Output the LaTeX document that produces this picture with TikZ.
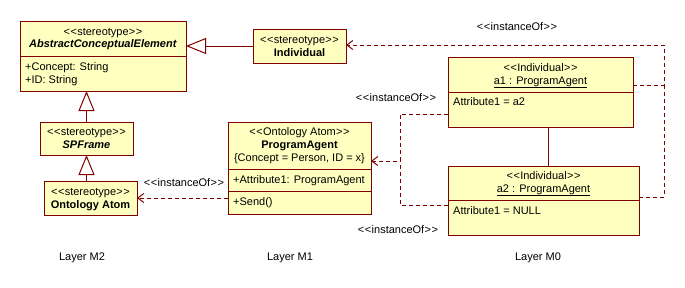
\documentclass[tikz,border=0pt]{standalone}
\usepackage{fontspec}
\setmainfont{Liberation Sans}
\usetikzlibrary{arrows.meta,calc}

\definecolor{umlred}{RGB}{128,0,0}
\definecolor{umlfill}{RGB}{255,255,192}
% the kerns keep << and >> from turning into guillemets
\newcommand{\stereo}[1]{\textless\kern0.6pt\textless\kern0.3pt #1\kern0.3pt\textgreater\kern0.6pt\textgreater}

\begin{document}
\begin{tikzpicture}[
  x=1pt, y=-1pt,
  font=\fontsize{11}{13}\selectfont,
  cls/.style={rectangle, draw=umlred, fill=umlfill, line width=1pt, inner sep=0pt, outer sep=0pt, anchor=north west},
  txt/.style={inner sep=0pt, text height=8pt, text depth=2pt},
  attr/.style={txt, anchor=west},
  gen/.style={draw=umlred, line width=1pt, -{Triangle[open, length=20pt, width=16pt, fill=white]}},
  dep/.style={draw=umlred, line width=1pt, dash pattern=on 4pt off 3pt, -{Straight Barb[length=6pt, width=9pt]}},
  assoc/.style={draw=umlred, line width=1pt},
]
  \useasboundingbox (0,0) rectangle (685,287);

  % Layer M2
  \node[cls, minimum width=166pt, minimum height=70pt] (ace) at (20,21) {};
  \draw[assoc] ($(ace.north west)+(0,35)$) -- ($(ace.north east)+(0,35)$);
  \node[txt] (ace-st) at ($(ace.north)+(0,11)$) {\stereo{stereotype}};
  \node[txt] (ace-name) at ($(ace.north)+(0,23)$) {\textbf{\textit{AbstractConceptualElement}}};
  \node[attr] (ace-a1) at ($(ace.north west)+(5,46)$) {+Concept: String};
  \node[attr] (ace-a2) at ($(ace.north west)+(5,59)$) {+ID: String};

  \node[cls, minimum width=93pt, minimum height=33pt] (spf) at (40,122) {};
  \node[txt] (spf-st) at ($(spf.north)+(0,10)$) {\stereo{stereotype}};
  \node[txt] (spf-name) at ($(spf.north)+(0,23)$) {\textbf{\textit{SPFrame}}};

  \node[cls, minimum width=93pt, minimum height=34pt] (onto) at (44,181) {};
  \node[txt] (onto-st) at ($(onto.north)+(0,11)$) {\stereo{stereotype}};
  \node[txt] (onto-name) at ($(onto.north)+(0,24)$) {\textbf{Ontology Atom}};

  \node[cls, minimum width=93pt, minimum height=34pt] (indiv) at (253,29) {};
  \node[txt] (indiv-st) at ($(indiv.north)+(0,11)$) {\stereo{stereotype}};
  \node[txt] (indiv-name) at ($(indiv.north)+(0,24)$) {\textbf{Individual}};

  % Layer M1
  \node[cls, minimum width=143pt, minimum height=92pt] (pa) at (228,122) {};
  \draw[assoc] ($(pa.north west)+(0,47)$) -- ($(pa.north east)+(0,47)$);
  \draw[assoc] ($(pa.north west)+(0,69)$) -- ($(pa.north east)+(0,69)$);
  \node[txt] (pa-st) at ($(pa.north)+(0,10)$) {\stereo{Ontology Atom}};
  \node[txt] (pa-name) at ($(pa.north)+(0,23)$) {\textbf{ProgramAgent}};
  \node[txt] (pa-tag) at ($(pa.north)+(0,36)$) {\{Concept = Person, ID = x\}};
  \node[attr] (pa-a1) at ($(pa.north west)+(5,58)$) {+Attribute1: ProgramAgent};
  \node[attr] (pa-op) at ($(pa.north west)+(5,80)$) {+Send()};

  % Layer M0
  \node[cls, minimum width=185pt, minimum height=70pt] (aone) at (448,57) {};
  \draw[assoc] ($(aone.north west)+(0,35)$) -- ($(aone.north east)+(0,35)$);
  \node[txt] (aone-st) at ($(aone.north)+(0,11)$) {\stereo{Individual}};
  \node[txt] (aone-name) at ($(aone.north)+(0,24)$) {\underline{a1 : ProgramAgent}};
  \node[attr] (aone-a1) at ($(aone.north west)+(5,45)$) {Attribute1 = a2};

  \node[cls, minimum width=191pt, minimum height=69pt] (atwo) at (448,166) {};
  \draw[assoc] ($(atwo.north west)+(0,34)$) -- ($(atwo.north east)+(0,34)$);
  \node[txt] (atwo-st) at ($(atwo.north)+(0,10)$) {\stereo{Individual}};
  \node[txt] (atwo-name) at ($(atwo.north)+(0,23)$) {\underline{a2 : ProgramAgent}};
  \node[attr] (atwo-a1) at ($(atwo.north west)+(5,45)$) {Attribute1 = NULL};

  % generalisations
  \draw[gen] (indiv.west) -- (indiv.west -| ace.east);
  \draw[gen] (spf.north) -- (spf.north |- ace.south);
  \draw[gen] (spf.south |- onto.north) -- (spf.south);

  % association a1 -- a2
  \draw[assoc] ([xshift=7.5pt]aone.south) -- ([xshift=7.5pt]aone.south |- atwo.north);

  % instanceOf dependencies
  \draw[dep] (pa.west |- onto.east) -- (onto.east);

  \coordinate (rj) at (664,45);
  \coordinate (a1r) at ([yshift=7pt]aone.east);
  \draw[dep] (a1r) -| (rj) -- (rj -| indiv.east);
  \draw[dep, -] ([yshift=3.5pt]atwo.east) -| (a1r -| rj);

  \coordinate (lj) at (400,161);
  \coordinate (a1l) at ([yshift=-22pt]aone.west);
  \draw[dep] (a1l) -| (lj) -- (lj -| pa.east);
  \draw[dep, -] ([yshift=-4.5pt]atwo.west) -| (lj);

  \node[txt] (io-m2) at (184,183) {\stereo{instanceOf}};
  \node[txt] (io-top) at (517,27) {\stereo{instanceOf}};
  \node[txt] (io-a1) at (396,98) {\stereo{instanceOf}};
  \node[txt] (io-a2) at (398,230) {\stereo{instanceOf}};

  % layer captions
  \node[txt] (layer-m2) at (82,257) {Layer M2};
  \node[txt] (layer-m1) at (290,257) {Layer M1};
  \node[txt] (layer-m0) at (538,257) {Layer M0};
\end{tikzpicture}
\end{document}
